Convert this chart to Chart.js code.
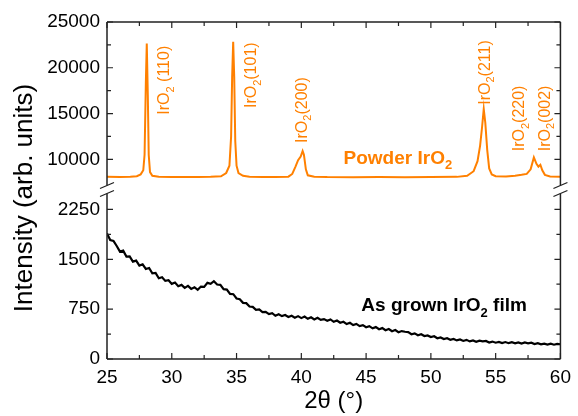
<!DOCTYPE html>
<html>
<head>
<meta charset="utf-8">
<script src="https://cdn.jsdelivr.net/npm/chart.js@4.4.1/dist/chart.umd.min.js"></script>
<style>
  html, body { margin: 0; padding: 0; background: #fff; }
</style>
</head>
<body>
<canvas id="xrd" width="578" height="416"></canvas>
<script>
// tick labels
const xTicks = [25, 30, 35, 40, 45, 50, 55, 60];
const lowTicks = [0, 750, 1500, 2250];
const highTicks = [10000, 15000, 20000, 25000];

// Powder IrO2 reference pattern
const powderX = [25.0, 26.0, 26.8, 27.3, 27.6, 27.8, 27.9, 28.0, 28.07, 28.15, 28.22, 28.32, 28.5, 29.0,
  30.0, 31.0, 32.0, 33.0, 33.8, 34.2, 34.45, 34.58, 34.66, 34.74, 34.82, 34.9, 35.0, 35.15, 35.5, 36.0,
  37.0, 38.0, 39.0, 39.3, 39.55, 39.75, 39.95, 40.1, 40.2, 40.35, 40.5, 41.0, 42.0, 44.0, 46.0, 48.0,
  50.0, 52.0, 52.8, 53.3, 53.6, 53.8, 53.95, 54.08, 54.2, 54.35, 54.5, 54.7, 55.0, 55.8, 56.5, 57.0,
  57.4, 57.7, 57.95, 58.15, 58.3, 58.45, 58.6, 58.8, 59.2, 60.0];
const powderY = [8080, 8070, 8090, 8150, 8350, 8800, 10500, 18500, 22650, 17000, 10500, 8600, 8200, 8090,
  8070, 8060, 8060, 8080, 8150, 8500, 9300, 12500, 19000, 22850, 19000, 12000, 9300, 8500, 8200, 8100,
  8070, 8060, 8100, 8400, 9200, 9900, 10300, 10900, 10500, 8900, 8250, 8100, 8060, 8050, 8060, 8050,
  8060, 8080, 8200, 8700, 9800, 11500, 13500, 15500, 14000, 11000, 9000, 8350, 8150, 8120, 8200, 8300,
  8400, 8900, 10200, 9500, 9200, 9400, 8800, 8300, 8120, 8100];

// As grown IrO2 film
const filmX = [25.0, 25.25, 25.5, 25.75, 26.0, 26.25, 26.5, 26.75, 27.0, 27.25, 27.5, 27.75, 28.0, 28.25,
  28.5, 28.75, 29.0, 29.25, 29.5, 29.75, 30.0, 30.25, 30.5, 30.75, 31.0, 31.25, 31.5, 31.75, 32.0, 32.25,
  32.5, 32.75, 33.0, 33.25, 33.5, 33.75, 34.0, 34.25, 34.5, 34.75, 35.0, 35.25, 35.5, 35.75, 36.0, 36.25,
  36.5, 36.75, 37.0, 37.25, 37.5, 37.75, 38.0, 38.25, 38.5, 38.75, 39.0, 39.25, 39.5, 39.75, 40.0, 40.25,
  40.5, 40.75, 41.0, 41.25, 41.5, 41.75, 42.0, 42.25, 42.5, 42.75, 43.0, 43.25, 43.5, 43.75, 44.0, 44.25,
  44.5, 44.75, 45.0, 45.25, 45.5, 45.75, 46.0, 46.25, 46.5, 46.75, 47.0, 47.25, 47.5, 47.75, 48.0, 48.25,
  48.5, 48.75, 49.0, 49.25, 49.5, 49.75, 50.0, 50.25, 50.5, 50.75, 51.0, 51.25, 51.5, 51.75, 52.0, 52.25,
  52.5, 52.75, 53.0, 53.25, 53.5, 53.75, 54.0, 54.25, 54.5, 54.75, 55.0, 55.25, 55.5, 55.75, 56.0, 56.25,
  56.5, 56.75, 57.0, 57.25, 57.5, 57.75, 58.0, 58.25, 58.5, 58.75, 59.0, 59.25, 59.5, 59.75, 60.0];
const filmY = [1890, 1790, 1775, 1700, 1615, 1630, 1540, 1545, 1465, 1480, 1405, 1425, 1355, 1370,
  1290, 1295, 1215, 1230, 1175, 1185, 1130, 1150, 1095, 1115, 1070, 1100, 1055, 1080, 1040, 1090,
  1085, 1145, 1130, 1170, 1120, 1115, 1050, 1045, 980, 975, 910, 900, 845, 840, 790, 785,
  740, 745, 705, 710, 675, 690, 650, 672, 645, 662, 632, 650, 622, 645, 615, 638,
  605, 628, 595, 620, 588, 600, 575, 595, 560, 578, 545, 560, 525, 545, 510, 528,
  495, 510, 478, 495, 462, 480, 448, 465, 432, 450, 418, 435, 402, 420, 410, 405,
  372, 385, 358, 372, 345, 355, 330, 342, 312, 325, 300, 312, 290, 302, 280, 295,
  272, 288, 265, 280, 258, 275, 265, 272, 248, 262, 245, 258, 240, 255, 238, 252,
  235, 250, 232, 248, 236, 245, 225, 238, 220, 232, 218, 230, 215, 228, 222];

// peak labels: text, baseline x (2θ), start height (counts on the upper axis)
const peakNames = ["(110)", "(101)", "(200)", "(211)", "(220)", "(002)"];
const peakLabelX = [29.8, 36.53, 40.41, 54.53, 57.19, 59.17];
const peakLabelY = [14870, 15600, 11790, 15960, 10880, 10880];

const ORANGE = "rgb(255, 128, 0)";
const FONT = '"Liberation Sans", Arial, Helvetica, sans-serif';

function toPoints(xs, ys) {
  return xs.map((x, i) => ({ x, y: ys[i] }));
}

// text with a subscript "2"
function richText(ctx, parts, x, y, size, bold) {
  let cx = x;
  for (const p of parts) {
    const s = p.sub ? Math.round(size * 0.68) : size;
    ctx.font = (bold ? "bold " : "") + s + "px " + FONT;
    ctx.fillText(p.t, cx, y + (p.sub ? size * 0.3 : 0));
    cx += ctx.measureText(p.t).width;
  }
}

// frame, inward ticks, axis break, axis titles and annotations
const decorations = {
  id: "decorations",
  afterDatasetsDraw(chart) {
    const { ctx, chartArea: a, scales } = chart;
    const xs = scales.x, yb = scales.y, yt = scales.y2;
    const brk = yt.bottom;
    const gap = 4;
    ctx.save();
    ctx.strokeStyle = "#222";
    ctx.lineWidth = 1.5;
    ctx.lineCap = "butt";
    ctx.beginPath();
    ctx.moveTo(a.left, a.top); ctx.lineTo(a.right, a.top);
    ctx.moveTo(a.left, a.bottom); ctx.lineTo(a.right, a.bottom);
    for (const ex of [a.left, a.right]) {
      ctx.moveTo(ex, a.top); ctx.lineTo(ex, brk - gap);
      ctx.moveTo(ex, brk + gap); ctx.lineTo(ex, a.bottom);
    }
    ctx.stroke();

    // break marks
    ctx.lineWidth = 1.3;
    ctx.beginPath();
    for (const ex of [a.left, a.right]) {
      for (const ey of [brk - gap, brk + gap]) {
        ctx.moveTo(ex - 7, ey + 3);
        ctx.lineTo(ex + 7, ey - 3);
      }
    }
    ctx.stroke();

    // inward ticks, minor ones halfway between labels
    ctx.lineWidth = 1.2;
    ctx.beginPath();
    for (let v = 25; v <= 60; v += 2.5) {
      const px = xs.getPixelForValue(v);
      const len = xTicks.includes(v) ? 6 : 4;
      ctx.moveTo(px, a.bottom); ctx.lineTo(px, a.bottom - len);
      ctx.moveTo(px, a.top); ctx.lineTo(px, a.top + len);
    }
    for (let v = 0; v <= 2250; v += 375) {
      const py = yb.getPixelForValue(v);
      const len = lowTicks.includes(v) ? 6 : 4;
      ctx.moveTo(a.left, py); ctx.lineTo(a.left + len, py);
      ctx.moveTo(a.right, py); ctx.lineTo(a.right - len, py);
    }
    for (let v = 10000; v <= 25000; v += 2500) {
      const py = yt.getPixelForValue(v);
      const len = highTicks.includes(v) ? 6 : 4;
      ctx.moveTo(a.left, py); ctx.lineTo(a.left + len, py);
      ctx.moveTo(a.right, py); ctx.lineTo(a.right - len, py);
    }
    ctx.stroke();

    // axis titles
    ctx.fillStyle = "#000";
    ctx.textBaseline = "alphabetic";
    ctx.textAlign = "center";
    ctx.font = "24px " + FONT;
    ctx.fillText("2\u03B8 (\u00B0)", (a.left + a.right) / 2, 408);
    ctx.save();
    ctx.translate(32, 198);
    ctx.rotate(-Math.PI / 2);
    ctx.font = "26px " + FONT;
    ctx.fillText("Intensity (arb. units)", 0, 0);
    ctx.restore();

    // peak labels
    ctx.textAlign = "left";
    ctx.fillStyle = ORANGE;
    peakNames.forEach((name, i) => {
      ctx.save();
      ctx.translate(xs.getPixelForValue(peakLabelX[i]), yt.getPixelForValue(peakLabelY[i]));
      ctx.rotate(-Math.PI / 2);
      const sep = i === 0 ? " " : "";
      richText(ctx, [{ t: "IrO" }, { t: "2", sub: true }, { t: sep + name }], 0, 0, 16, false);
      ctx.restore();
    });

    // series labels
    richText(ctx, [{ t: "Powder IrO" }, { t: "2", sub: true }],
      xs.getPixelForValue(43.26), yt.getPixelForValue(9536), 19, true);
    ctx.fillStyle = "#000";
    richText(ctx, [{ t: "As grown IrO" }, { t: "2", sub: true }, { t: " film" }],
      xs.getPixelForValue(44.63), yb.getPixelForValue(720), 19, true);
    ctx.restore();
  },
};

const tickFont = { family: FONT, size: 19 };
const fixedTicks = (list) => (s) => { s.ticks = list.map((value) => ({ value })); };
const plainLabel = (v) => String(v);
const noGrid = { display: false, drawTicks: false };

new Chart(document.getElementById("xrd"), {
  type: "line",
  data: {
    datasets: [
      {
        label: "Powder IrO2",
        data: toPoints(powderX, powderY),
        yAxisID: "y2",
        borderColor: ORANGE,
        borderWidth: 2,
        pointRadius: 0,
        tension: 0,
      },
      {
        label: "As grown IrO2 film",
        data: toPoints(filmX, filmY),
        yAxisID: "y",
        borderColor: "#000",
        borderWidth: 2.2,
        pointRadius: 0,
        tension: 0,
      },
    ],
  },
  options: {
    responsive: false,
    animation: false,
    devicePixelRatio: 1,
    layout: { padding: { top: 22, right: 11, left: 0, bottom: 0 } },
    plugins: { legend: { display: false }, tooltip: { enabled: false } },
    scales: {
      x: {
        type: "linear",
        min: 25,
        max: 60,
        grid: noGrid,
        border: { display: false },
        ticks: { padding: 7, color: "#000", font: tickFont, maxRotation: 0, autoSkip: false, callback: plainLabel },
        afterBuildTicks: fixedTicks(xTicks),
        afterFit: (s) => { s.height = 57; },
      },
      // lower panel (film)
      y: {
        type: "linear",
        position: "left",
        stack: "intensity",
        stackWeight: 170,
        min: 0,
        max: 2550,
        grid: noGrid,
        border: { display: false },
        ticks: { padding: 7, autoSkip: false, color: "#000", font: tickFont, callback: plainLabel },
        afterBuildTicks: fixedTicks(lowTicks),
        afterFit: (s) => { s.width = 107; },
      },
      // upper panel (powder)
      y2: {
        type: "linear",
        position: "left",
        stack: "intensity",
        stackWeight: 168,
        min: 6700,
        max: 25000,
        grid: noGrid,
        border: { display: false },
        ticks: { padding: 7, autoSkip: false, color: "#000", font: tickFont, callback: plainLabel },
        afterBuildTicks: fixedTicks(highTicks),
        afterFit: (s) => { s.width = 107; },
      },
    },
  },
  plugins: [decorations],
});
</script>
</body>
</html>
